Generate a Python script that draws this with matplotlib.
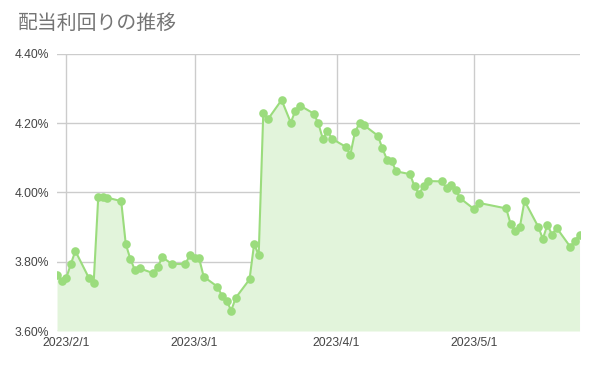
import matplotlib
matplotlib.use('Agg')
import matplotlib.pyplot as plt
import matplotlib.dates as mdates
from matplotlib.ticker import FuncFormatter
import pandas as pd

plt.rcParams['font.family'] = ['Liberation Sans', 'Noto Sans CJK JP', 'DejaVu Sans']

# 取引日と配当利回り(%)
dates = [
    '2023-01-30', '2023-01-31', '2023-02-01', '2023-02-02', '2023-02-03',
    '2023-02-06', '2023-02-07', '2023-02-08', '2023-02-09', '2023-02-10',
    '2023-02-13', '2023-02-14', '2023-02-15', '2023-02-16', '2023-02-17',
    '2023-02-20', '2023-02-21', '2023-02-22', '2023-02-24', '2023-02-27',
    '2023-02-28', '2023-03-01', '2023-03-02', '2023-03-03', '2023-03-06',
    '2023-03-07', '2023-03-08', '2023-03-09', '2023-03-10', '2023-03-13',
    '2023-03-14', '2023-03-15', '2023-03-16', '2023-03-17', '2023-03-20',
    '2023-03-22', '2023-03-23', '2023-03-24', '2023-03-27', '2023-03-28',
    '2023-03-29', '2023-03-30', '2023-03-31', '2023-04-03', '2023-04-04',
    '2023-04-05', '2023-04-06', '2023-04-07', '2023-04-10', '2023-04-11',
    '2023-04-12', '2023-04-13', '2023-04-14', '2023-04-17', '2023-04-18',
    '2023-04-19', '2023-04-20', '2023-04-21', '2023-04-24', '2023-04-25',
    '2023-04-26', '2023-04-27', '2023-04-28', '2023-05-01', '2023-05-02',
    '2023-05-08', '2023-05-09', '2023-05-10', '2023-05-11', '2023-05-12',
    '2023-05-15', '2023-05-16', '2023-05-17', '2023-05-18', '2023-05-19',
    '2023-05-22', '2023-05-23', '2023-05-24',
]
yields = [
    3.762, 3.745, 3.752, 3.793, 3.831,
    3.752, 3.740, 3.988, 3.988, 3.985,
    3.975, 3.851, 3.808, 3.776, 3.781,
    3.767, 3.786, 3.813, 3.794, 3.793,
    3.820, 3.810, 3.810, 3.757, 3.728,
    3.702, 3.688, 3.659, 3.696, 3.749,
    3.851, 3.819, 4.229, 4.211, 4.267,
    4.202, 4.236, 4.251, 4.228, 4.200,
    4.155, 4.178, 4.155, 4.132, 4.109,
    4.174, 4.200, 4.194, 4.164, 4.127,
    4.095, 4.091, 4.061, 4.053, 4.018,
    3.995, 4.020, 4.033, 4.032, 4.012,
    4.023, 4.007, 3.983, 3.952, 3.970,
    3.954, 3.908, 3.889, 3.901, 3.976,
    3.901, 3.866, 3.907, 3.878, 3.898,
    3.843, 3.861, 3.877,
]
y_ticks = [3.60, 3.80, 4.00, 4.20, 4.40]
x_ticks = ['2023-02-01', '2023-03-01', '2023-04-01', '2023-05-01']

d = pd.to_datetime(dates)
line_color = '#9bdc7d'
fill_color = '#e2f4db'

fig = plt.figure(figsize=(5.94, 3.66), dpi=100)
ax = fig.add_axes([0.096, 0.0956, 0.8796, 0.757])

ax.fill_between(d, yields, y_ticks[0], color=fill_color, linewidth=0, zorder=1)
ax.plot(d, yields, color=line_color, linewidth=1.5, marker='o', markersize=6.2,
        markeredgewidth=0, zorder=3)

ax.set_xlim(d[0], d[-1])
ax.set_ylim(y_ticks[0], y_ticks[-1])
ax.set_yticks(y_ticks)
ax.yaxis.set_major_formatter(FuncFormatter(lambda v, p: f'{v:.2f}%'))
ax.set_xticks(pd.to_datetime(x_ticks))
ax.xaxis.set_major_formatter(mdates.DateFormatter('%Y/%-m/%-d'))

ax.grid(True, color='#cccccc', linewidth=1, zorder=0)
ax.set_axisbelow(True)
for s in ax.spines.values():
    s.set_visible(False)
ax.tick_params(length=0, labelsize=8.7, colors='#444444', pad=6)
ax.tick_params(axis='x', pad=4)

fig.text(0.03, 0.935, '配当利回りの推移', fontsize=14.3, color='#757575',
         va='center', ha='left', family=['Noto Sans CJK JP'])

plt.savefig('out.png', dpi=100)
plt.close()
